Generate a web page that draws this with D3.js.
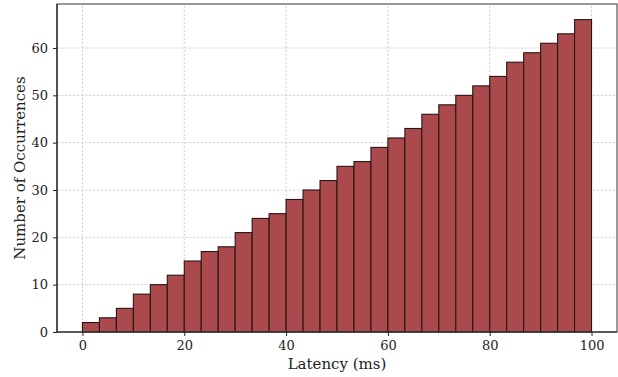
<!DOCTYPE html>
<html><head><meta charset="utf-8">
<script src="https://cdn.jsdelivr.net/npm/d3@7"></script>
<style>body{margin:0;background:#fff}svg{display:block}text{font-family:"DejaVu Serif",serif;fill:#222}</style>
</head><body>
<script>
const binStart = 0, binEnd = 100, binCount = 30;
const counts = [2,3,5,8,10,12,15,17,18,21,24,25,28,30,32,35,36,39,41,43,46,48,50,52,54,57,59,61,63,66];
const xTicks = [0,20,40,60,80,100];
const yTicks = [0,10,20,30,40,50,60];

const W = 618, H = 377;
const m = {l:57, r:1, t:4, b:45};
const svg = d3.select("body").append("svg").attr("width",W).attr("height",H);
const x = d3.scaleLinear().domain([-5,105]).range([m.l, W-m.r]);
const y = d3.scaleLinear().domain([0, 66*1.05]).range([H-m.b, m.t]);
const bw = (binEnd-binStart)/binCount;
const bins = counts.map((c,i)=>({x0:binStart+i*bw, x1:binStart+(i+1)*bw, c}));

const g = svg.append("g");
// grid
g.selectAll(".gx").data(xTicks).join("line")
 .attr("x1",d=>x(d)).attr("x2",d=>x(d)).attr("y1",y.range()[0]).attr("y2",y.range()[1])
 .attr("stroke","#c8c8c8").attr("stroke-width",0.8).attr("stroke-dasharray","2.5,1.5");
g.selectAll(".gy").data(yTicks).join("line")
 .attr("x1",m.l).attr("x2",W-m.r).attr("y1",d=>y(d)).attr("y2",d=>y(d))
 .attr("stroke","#c8c8c8").attr("stroke-width",0.8).attr("stroke-dasharray","2.5,1.5");
// bars
g.selectAll(".bar").data(bins).join("rect")
 .attr("x",d=>x(d.x0)).attr("width",d=>x(d.x1)-x(d.x0))
 .attr("y",d=>y(d.c)).attr("height",d=>y(0)-y(d.c))
 .attr("fill","#ab4a4c").attr("stroke","#2a1414").attr("stroke-width",1.1);
// spines
svg.append("rect").attr("x",m.l).attr("y",m.t).attr("width",W-m.r-m.l).attr("height",H-m.b-m.t)
 .attr("fill","none").attr("stroke","#555").attr("stroke-width",1.2);
svg.append("line").attr("x1",m.l).attr("x2",m.l).attr("y1",m.t).attr("y2",H-m.b).attr("stroke","#222").attr("stroke-width",1.2);
svg.append("line").attr("x1",m.l).attr("x2",W-m.r).attr("y1",H-m.b).attr("y2",H-m.b).attr("stroke","#222").attr("stroke-width",1.2);
// axes
const xa = svg.append("g").attr("transform",`translate(0,${H-m.b})`)
 .call(d3.axisBottom(x).tickValues(xTicks).tickSize(4).tickPadding(5));
const ya = svg.append("g").attr("transform",`translate(${m.l},0)`)
 .call(d3.axisLeft(y).tickValues(yTicks).tickSize(4).tickPadding(5));
[xa,ya].forEach(a=>{a.select(".domain").remove();
 a.selectAll("line").attr("stroke","#222");
 a.selectAll("text").style("font-family","DejaVu Serif, serif").style("font-size","13px").attr("fill","#222");});
svg.append("text").attr("x",(m.l+W-m.r)/2).attr("y",369).attr("text-anchor","middle")
 .style("font-size","15px").text("Latency (ms)");
svg.append("text").attr("transform",`translate(25,${(m.t+H-m.b)/2}) rotate(-90)`).attr("text-anchor","middle")
 .style("font-size","15px").text("Number of Occurrences");
</script>
</body></html>
